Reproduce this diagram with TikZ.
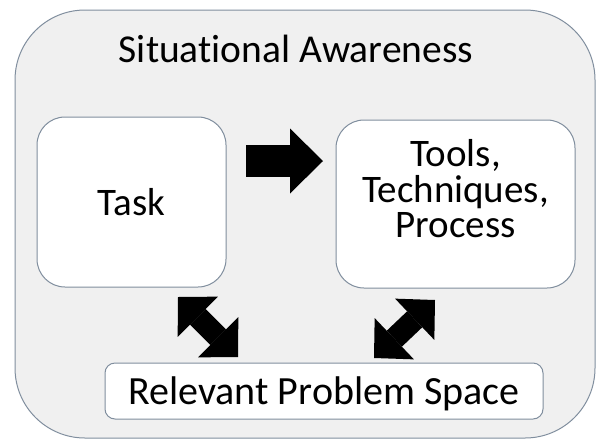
\documentclass[tikz,border=0pt]{standalone}
\usepackage{fontspec}
\setmainfont{Carlito}[Ligatures={NoCommon}]
\usetikzlibrary{arrows.meta}

\definecolor{borda}{RGB}{128,142,158}
\definecolor{fundo}{RGB}{240,240,240}

\begin{document}
\begin{tikzpicture}[x=1pt, y=-1pt]
                \tikzstyle{caixa}=[draw=borda, line width=1pt, fill=white, inner sep=0pt, rounded corners=28pt, align=center, font=\fontsize{39}{35.5}\selectfont]
                \tikzstyle{seta}=[line width=32pt, -{Triangle[width=65pt,length=33pt,line width=0pt]}]
                \tikzstyle{setadupla}=[line width=22pt, {Triangle[width=57pt,length=28pt,line width=0pt]}-{Triangle[width=57pt,length=28pt,line width=0pt]}]

                    \useasboundingbox (0,0) rectangle (597,440);

                    % Nós
                    \node[draw=borda, line width=1pt, fill=fundo, inner sep=0pt, rounded corners=70pt, minimum width=580pt, minimum height=428pt] (sa) at (305,224) {};
                    \node[font=\fontsize{39.5}{40}\selectfont, anchor=base] (titulo) at (296,62) {Situational Awareness};
                    \node[caixa, minimum width=189pt, minimum height=170pt] (task) at (131.5,202) {Task};
                    \node[caixa, minimum width=239pt, minimum height=168pt, text depth=31pt] (tools) at (455.5,204) {Tools,\\Techniques,\\Process};
                    \node[caixa, rounded corners=10pt, minimum width=438pt, minimum height=56pt, text depth=0pt, font=\fontsize{40}{40}\selectfont] (rps) at (324,391) {Relevant Problem Space};

                    % Setas
                    \coordinate (s1) at (246,161);
                    \coordinate (s2) at (323,161);
                    \coordinate (d1) at (178,297);
                    \coordinate (d2) at (238,357);
                    \coordinate (d3) at (435,300);
                    \coordinate (d4) at (374,358);

                    \draw[seta] (s1) -- (s2);
                    \draw[setadupla] (d1) -- (d2);
                    \draw[setadupla] (d3) -- (d4);

            \end{tikzpicture}
\end{document}
